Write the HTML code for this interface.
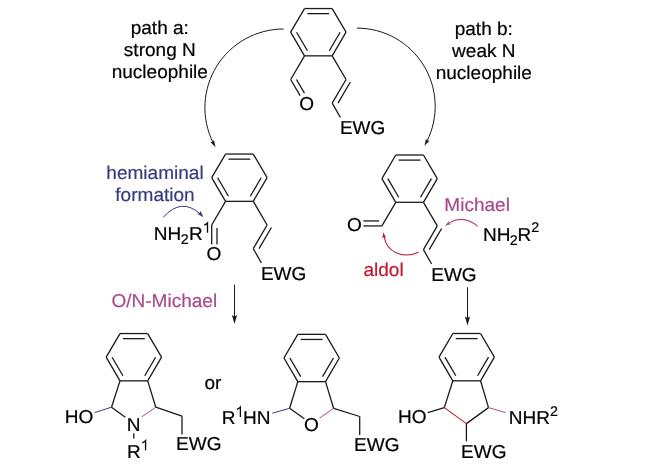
<!DOCTYPE html>
<html><head><meta charset="utf-8"><title>scheme</title>
<style>
html,body{margin:0;padding:0;background:#fff;}
body{width:650px;height:473px;overflow:hidden;}
svg{display:block;}
text{font-family:"Liberation Sans",sans-serif;text-rendering:geometricPrecision;}
svg{will-change:transform;opacity:0.999;}
</style></head><body>
<svg width="650" height="473" viewBox="0 0 650 473">
<rect width="650" height="473" fill="#fff"/>
<line x1="304.50" y1="8.55" x2="332.20" y2="8.55" stroke="#1a1a1a" stroke-width="1.3"/>
<line x1="332.20" y1="8.55" x2="346.05" y2="32.20" stroke="#1a1a1a" stroke-width="1.3"/>
<line x1="346.05" y1="32.20" x2="332.20" y2="55.85" stroke="#1a1a1a" stroke-width="1.3"/>
<line x1="332.20" y1="55.85" x2="304.50" y2="55.85" stroke="#1a1a1a" stroke-width="1.3"/>
<line x1="304.50" y1="55.85" x2="290.65" y2="32.20" stroke="#1a1a1a" stroke-width="1.3"/>
<line x1="290.65" y1="32.20" x2="304.50" y2="8.55" stroke="#1a1a1a" stroke-width="1.3"/>
<line x1="307.44" y1="13.65" x2="329.26" y2="13.65" stroke="#1a1a1a" stroke-width="1.3"/>
<line x1="340.13" y1="32.22" x2="329.26" y2="50.79" stroke="#1a1a1a" stroke-width="1.3"/>
<line x1="307.44" y1="50.79" x2="296.57" y2="32.22" stroke="#1a1a1a" stroke-width="1.3"/>
<line x1="304.50" y1="55.85" x2="290.65" y2="79.50" stroke="#1a1a1a" stroke-width="1.3"/>
<line x1="332.20" y1="55.85" x2="346.05" y2="79.50" stroke="#1a1a1a" stroke-width="1.3"/>
<line x1="346.05" y1="79.50" x2="332.20" y2="103.15" stroke="#1a1a1a" stroke-width="1.3"/>
<line x1="350.36" y1="82.03" x2="337.98" y2="103.17" stroke="#1a1a1a" stroke-width="1.3"/>
<line x1="332.20" y1="103.15" x2="340.40" y2="117.55" stroke="#1a1a1a" stroke-width="1.3"/>
<line x1="290.65" y1="79.50" x2="300.10" y2="95.64" stroke="#1a1a1a" stroke-width="1.3"/>
<line x1="296.43" y1="79.48" x2="304.47" y2="93.20" stroke="#1a1a1a" stroke-width="1.3"/>
<text transform="translate(306.60,110.10) scale(1.02,1)" fill="#000" stroke="#000" stroke-width="0.2" font-size="18.67" text-anchor="middle">O</text>
<text transform="translate(339.90,134.20) scale(1.02,1)" fill="#000" stroke="#000" stroke-width="0.2" font-size="18.67" text-anchor="start">EWG</text>
<path d="M283.60,29.00 A78.7,78.7 0 0 0 212.92,142.32" fill="none" stroke="#1a1a1a" stroke-width="1"/>
<path d="M215.51,147.17 L210.45,141.94 L212.78,142.05 L213.98,140.05 Z" fill="#1a1a1a"/>
<path d="M357.00,28.10 A78.2,78.2 0 0 1 427.06,141.03" fill="none" stroke="#1a1a1a" stroke-width="1"/>
<path d="M424.45,145.87 L426.02,138.76 L427.21,140.77 L429.54,140.66 Z" fill="#1a1a1a"/>
<text transform="translate(159.80,33.70) scale(1.02,1)" fill="#000" stroke="#000" stroke-width="0.2" font-size="18.67" text-anchor="middle">path a:</text>
<text transform="translate(159.80,55.70) scale(1.02,1)" fill="#000" stroke="#000" stroke-width="0.2" font-size="18.67" text-anchor="middle">strong N</text>
<text transform="translate(159.80,77.70) scale(1.02,1)" fill="#000" stroke="#000" stroke-width="0.2" font-size="18.67" text-anchor="middle">nucleophile</text>
<text transform="translate(483.80,34.70) scale(1.02,1)" fill="#000" stroke="#000" stroke-width="0.2" font-size="18.67" text-anchor="middle">path b:</text>
<text transform="translate(483.80,57.00) scale(1.02,1)" fill="#000" stroke="#000" stroke-width="0.2" font-size="18.67" text-anchor="middle">weak N</text>
<text transform="translate(483.80,78.70) scale(1.02,1)" fill="#000" stroke="#000" stroke-width="0.2" font-size="18.67" text-anchor="middle">nucleophile</text>
<line x1="225.55" y1="154.05" x2="253.25" y2="154.05" stroke="#1a1a1a" stroke-width="1.3"/>
<line x1="253.25" y1="154.05" x2="267.10" y2="177.70" stroke="#1a1a1a" stroke-width="1.3"/>
<line x1="267.10" y1="177.70" x2="253.25" y2="201.35" stroke="#1a1a1a" stroke-width="1.3"/>
<line x1="253.25" y1="201.35" x2="225.55" y2="201.35" stroke="#1a1a1a" stroke-width="1.3"/>
<line x1="225.55" y1="201.35" x2="211.70" y2="177.70" stroke="#1a1a1a" stroke-width="1.3"/>
<line x1="211.70" y1="177.70" x2="225.55" y2="154.05" stroke="#1a1a1a" stroke-width="1.3"/>
<line x1="228.49" y1="159.15" x2="250.31" y2="159.15" stroke="#1a1a1a" stroke-width="1.3"/>
<line x1="261.18" y1="177.72" x2="250.31" y2="196.29" stroke="#1a1a1a" stroke-width="1.3"/>
<line x1="228.49" y1="196.29" x2="217.62" y2="177.72" stroke="#1a1a1a" stroke-width="1.3"/>
<line x1="225.55" y1="201.35" x2="211.70" y2="225.00" stroke="#1a1a1a" stroke-width="1.3"/>
<line x1="253.25" y1="201.35" x2="267.10" y2="225.00" stroke="#1a1a1a" stroke-width="1.3"/>
<line x1="267.10" y1="225.00" x2="253.25" y2="248.65" stroke="#1a1a1a" stroke-width="1.3"/>
<line x1="271.41" y1="227.53" x2="259.03" y2="248.67" stroke="#1a1a1a" stroke-width="1.3"/>
<line x1="253.25" y1="248.65" x2="261.45" y2="263.05" stroke="#1a1a1a" stroke-width="1.3"/>
<line x1="211.70" y1="225.00" x2="211.70" y2="244.50" stroke="#1a1a1a" stroke-width="1.3"/>
<line x1="217.00" y1="227.90" x2="217.00" y2="244.50" stroke="#1a1a1a" stroke-width="1.3"/>
<text transform="translate(214.00,260.00) scale(1.02,1)" fill="#000" stroke="#000" stroke-width="0.2" font-size="18.67" text-anchor="middle">O</text>
<text transform="translate(260.90,280.20) scale(1.02,1)" fill="#000" stroke="#000" stroke-width="0.2" font-size="18.67" text-anchor="start">EWG</text>
<text transform="translate(153.70,240.00) scale(1.02,1)" fill="#000" stroke="#000" stroke-width="0.2" font-size="18.67" text-anchor="start">NH<tspan font-size="14" dx="-0.5" dy="4">2</tspan><tspan dx="0.4" dy="-4">R</tspan></text>
<path d="M204.23,225.21 Q206.44,224.30 207.51,222.98 L207.51,232.70" fill="none" stroke="#000" stroke-width="1.3" stroke-linejoin="miter"/>
<text transform="translate(155.00,178.50) scale(1.02,1)" fill="#353b82" stroke="#353b82" stroke-width="0.2" font-size="18.67" text-anchor="middle">hemiaminal</text>
<text transform="translate(155.00,200.50) scale(1.02,1)" fill="#353b82" stroke="#353b82" stroke-width="0.2" font-size="18.67" text-anchor="middle">formation</text>
<path d="M163.2,217.4 Q181,197 200.5,214" fill="none" stroke="#353b82" stroke-width="1"/>
<path d="M203.40,217.30 L197.14,213.79 L199.85,213.36 L200.56,210.71 Z" fill="#353b82"/>
<line x1="395.75" y1="155.00" x2="423.45" y2="155.00" stroke="#1a1a1a" stroke-width="1.3"/>
<line x1="423.45" y1="155.00" x2="437.30" y2="178.65" stroke="#1a1a1a" stroke-width="1.3"/>
<line x1="437.30" y1="178.65" x2="423.45" y2="202.30" stroke="#1a1a1a" stroke-width="1.3"/>
<line x1="423.45" y1="202.30" x2="395.75" y2="202.30" stroke="#1a1a1a" stroke-width="1.3"/>
<line x1="395.75" y1="202.30" x2="381.90" y2="178.65" stroke="#1a1a1a" stroke-width="1.3"/>
<line x1="381.90" y1="178.65" x2="395.75" y2="155.00" stroke="#1a1a1a" stroke-width="1.3"/>
<line x1="398.69" y1="160.10" x2="420.51" y2="160.10" stroke="#1a1a1a" stroke-width="1.3"/>
<line x1="431.38" y1="178.67" x2="420.51" y2="197.24" stroke="#1a1a1a" stroke-width="1.3"/>
<line x1="398.69" y1="197.24" x2="387.82" y2="178.67" stroke="#1a1a1a" stroke-width="1.3"/>
<line x1="395.75" y1="202.30" x2="381.90" y2="225.95" stroke="#1a1a1a" stroke-width="1.3"/>
<line x1="423.45" y1="202.30" x2="437.30" y2="225.95" stroke="#1a1a1a" stroke-width="1.3"/>
<line x1="437.30" y1="225.95" x2="423.45" y2="249.60" stroke="#1a1a1a" stroke-width="1.3"/>
<line x1="441.61" y1="228.48" x2="429.23" y2="249.62" stroke="#1a1a1a" stroke-width="1.3"/>
<line x1="423.45" y1="249.60" x2="431.65" y2="264.00" stroke="#1a1a1a" stroke-width="1.3"/>
<line x1="381.90" y1="225.95" x2="363.40" y2="225.95" stroke="#1a1a1a" stroke-width="1.3"/>
<line x1="379.00" y1="220.95" x2="363.40" y2="220.95" stroke="#1a1a1a" stroke-width="1.3"/>
<text transform="translate(354.50,231.40) scale(1.02,1)" fill="#000" stroke="#000" stroke-width="0.2" font-size="18.67" text-anchor="middle">O</text>
<text transform="translate(431.20,281.20) scale(1.02,1)" fill="#000" stroke="#000" stroke-width="0.2" font-size="18.67" text-anchor="start">EWG</text>
<text transform="translate(444.30,210.60) scale(1.02,1)" fill="#a84b8c" stroke="#a84b8c" stroke-width="0.2" font-size="18.67" text-anchor="start">Michael</text>
<text transform="translate(483.00,240.60) scale(1.02,1)" fill="#000" stroke="#000" stroke-width="0.2" font-size="18.67" text-anchor="start">NH<tspan font-size="14" dx="-0.8" dy="4">2</tspan><tspan dy="-4">R</tspan><tspan font-size="14" dy="-8.3">2</tspan></text>
<path d="M477.8,226.4 Q463,214 448.5,223.6" fill="none" stroke="#a84b8c" stroke-width="1.1"/>
<path d="M445.00,225.90 L448.91,220.97 L448.98,223.22 L451.04,224.12 Z" fill="#a84b8c"/>
<text transform="translate(363.40,276.40) scale(1.02,1)" fill="#c2182f" stroke="#c2182f" stroke-width="0.2" font-size="18.67" text-anchor="start">aldol</text>
<path d="M418.6,252.2 C402,259.3 386.5,251.6 384.1,236.5" fill="none" stroke="#c2182f" stroke-width="1.1"/>
<path d="M383.20,232.20 L386.11,237.78 L384.03,236.93 L382.37,238.44 Z" fill="#c2182f"/>
<line x1="234.50" y1="284.80" x2="234.50" y2="317.00" stroke="#1a1a1a" stroke-width="1"/>
<path d="M234.50,324.00 L231.90,315.00 L234.50,316.50 L237.10,315.00 Z" fill="#1a1a1a"/>
<line x1="467.50" y1="287.20" x2="467.50" y2="319.00" stroke="#1a1a1a" stroke-width="1"/>
<path d="M467.50,325.60 L464.90,316.60 L467.50,318.10 L470.10,316.60 Z" fill="#1a1a1a"/>
<text transform="translate(111.40,307.00) scale(1.02,1)" fill="#a84b8c" stroke="#a84b8c" stroke-width="0.2" font-size="18.67" text-anchor="start">O/N-Michael</text>
<line x1="120.00" y1="333.55" x2="147.70" y2="333.55" stroke="#1a1a1a" stroke-width="1.3"/>
<line x1="147.70" y1="333.55" x2="161.55" y2="357.20" stroke="#1a1a1a" stroke-width="1.3"/>
<line x1="161.55" y1="357.20" x2="147.70" y2="380.85" stroke="#1a1a1a" stroke-width="1.3"/>
<line x1="147.70" y1="380.85" x2="120.00" y2="380.85" stroke="#1a1a1a" stroke-width="1.3"/>
<line x1="120.00" y1="380.85" x2="106.15" y2="357.20" stroke="#1a1a1a" stroke-width="1.3"/>
<line x1="106.15" y1="357.20" x2="120.00" y2="333.55" stroke="#1a1a1a" stroke-width="1.3"/>
<line x1="122.94" y1="338.65" x2="144.76" y2="338.65" stroke="#1a1a1a" stroke-width="1.3"/>
<line x1="155.63" y1="357.22" x2="144.76" y2="375.79" stroke="#1a1a1a" stroke-width="1.3"/>
<line x1="122.94" y1="375.79" x2="112.07" y2="357.22" stroke="#1a1a1a" stroke-width="1.3"/>
<line x1="120.00" y1="380.85" x2="111.50" y2="407.20" stroke="#1a1a1a" stroke-width="1.3"/>
<line x1="147.70" y1="380.85" x2="155.80" y2="407.20" stroke="#1a1a1a" stroke-width="1.3"/>
<line x1="111.50" y1="407.20" x2="125.30" y2="417.20" stroke="#1a1a1a" stroke-width="1.3"/>
<line x1="141.80" y1="416.80" x2="155.80" y2="407.20" stroke="#a84b8c" stroke-width="1.0"/>
<line x1="111.50" y1="407.20" x2="94.60" y2="412.60" stroke="#353b82" stroke-width="1.0"/>
<text transform="translate(64.80,423.00) scale(1.02,1)" fill="#000" stroke="#000" stroke-width="0.2" font-size="18.67" text-anchor="start">HO</text>
<text transform="translate(133.60,431.20) scale(1.02,1)" fill="#000" stroke="#000" stroke-width="0.2" font-size="18.67" text-anchor="middle">N</text>
<line x1="133.80" y1="433.30" x2="133.80" y2="438.50" stroke="#1a1a1a" stroke-width="1.3"/>
<text transform="translate(126.90,457.50) scale(1.02,1)" fill="#000" stroke="#000" stroke-width="0.2" font-size="18.67" text-anchor="start">R</text>
<path d="M142.29,442.81 Q144.50,441.90 145.58,440.58 L145.58,450.30" fill="none" stroke="#000" stroke-width="1.3" stroke-linejoin="miter"/>
<line x1="155.80" y1="407.20" x2="182.00" y2="416.20" stroke="#1a1a1a" stroke-width="1.3"/>
<line x1="182.00" y1="416.20" x2="182.00" y2="434.50" stroke="#1a1a1a" stroke-width="1.3"/>
<text transform="translate(176.00,450.00) scale(1.02,1)" fill="#000" stroke="#000" stroke-width="0.2" font-size="18.67" text-anchor="start">EWG</text>
<text transform="translate(204.50,389.30) scale(1.02,1)" fill="#000" stroke="#000" stroke-width="0.2" font-size="18.67" text-anchor="start">or</text>
<line x1="297.80" y1="334.35" x2="325.50" y2="334.35" stroke="#1a1a1a" stroke-width="1.3"/>
<line x1="325.50" y1="334.35" x2="339.35" y2="358.00" stroke="#1a1a1a" stroke-width="1.3"/>
<line x1="339.35" y1="358.00" x2="325.50" y2="381.65" stroke="#1a1a1a" stroke-width="1.3"/>
<line x1="325.50" y1="381.65" x2="297.80" y2="381.65" stroke="#1a1a1a" stroke-width="1.3"/>
<line x1="297.80" y1="381.65" x2="283.95" y2="358.00" stroke="#1a1a1a" stroke-width="1.3"/>
<line x1="283.95" y1="358.00" x2="297.80" y2="334.35" stroke="#1a1a1a" stroke-width="1.3"/>
<line x1="300.74" y1="339.45" x2="322.56" y2="339.45" stroke="#1a1a1a" stroke-width="1.3"/>
<line x1="333.43" y1="358.02" x2="322.56" y2="376.59" stroke="#1a1a1a" stroke-width="1.3"/>
<line x1="300.74" y1="376.59" x2="289.87" y2="358.02" stroke="#1a1a1a" stroke-width="1.3"/>
<line x1="297.80" y1="381.65" x2="289.60" y2="408.30" stroke="#1a1a1a" stroke-width="1.3"/>
<line x1="325.50" y1="381.65" x2="333.60" y2="408.30" stroke="#1a1a1a" stroke-width="1.3"/>
<line x1="289.60" y1="408.30" x2="304.40" y2="418.80" stroke="#1a1a1a" stroke-width="1.3"/>
<line x1="319.50" y1="418.20" x2="333.60" y2="408.30" stroke="#a84b8c" stroke-width="1.0"/>
<line x1="289.60" y1="408.30" x2="272.30" y2="413.20" stroke="#353b82" stroke-width="1.0"/>
<text transform="translate(311.40,431.40) scale(1.02,1)" fill="#000" stroke="#000" stroke-width="0.2" font-size="18.67" text-anchor="middle">O</text>
<text transform="translate(221.70,424.20) scale(1.02,1)" fill="#000" stroke="#000" stroke-width="0.2" font-size="18.67" text-anchor="start">R</text>
<path d="M237.09,409.41 Q239.30,408.50 240.38,407.18 L240.38,416.90" fill="none" stroke="#000" stroke-width="1.3" stroke-linejoin="miter"/>
<text transform="translate(242.99,424.20) scale(1.02,1)" fill="#000" stroke="#000" stroke-width="0.2" font-size="18.67" text-anchor="start">HN</text>
<line x1="333.60" y1="408.30" x2="359.70" y2="416.50" stroke="#1a1a1a" stroke-width="1.3"/>
<line x1="359.70" y1="416.50" x2="359.70" y2="435.00" stroke="#1a1a1a" stroke-width="1.3"/>
<text transform="translate(354.00,451.40) scale(1.02,1)" fill="#000" stroke="#000" stroke-width="0.2" font-size="18.67" text-anchor="start">EWG</text>
<line x1="452.85" y1="333.50" x2="480.55" y2="333.50" stroke="#1a1a1a" stroke-width="1.3"/>
<line x1="480.55" y1="333.50" x2="494.40" y2="357.15" stroke="#1a1a1a" stroke-width="1.3"/>
<line x1="494.40" y1="357.15" x2="480.55" y2="380.80" stroke="#1a1a1a" stroke-width="1.3"/>
<line x1="480.55" y1="380.80" x2="452.85" y2="380.80" stroke="#1a1a1a" stroke-width="1.3"/>
<line x1="452.85" y1="380.80" x2="439.00" y2="357.15" stroke="#1a1a1a" stroke-width="1.3"/>
<line x1="439.00" y1="357.15" x2="452.85" y2="333.50" stroke="#1a1a1a" stroke-width="1.3"/>
<line x1="455.79" y1="338.60" x2="477.61" y2="338.60" stroke="#1a1a1a" stroke-width="1.3"/>
<line x1="488.48" y1="357.17" x2="477.61" y2="375.74" stroke="#1a1a1a" stroke-width="1.3"/>
<line x1="455.79" y1="375.74" x2="444.92" y2="357.17" stroke="#1a1a1a" stroke-width="1.3"/>
<line x1="452.85" y1="380.80" x2="444.30" y2="407.60" stroke="#1a1a1a" stroke-width="1.3"/>
<line x1="480.55" y1="380.80" x2="488.50" y2="407.60" stroke="#1a1a1a" stroke-width="1.3"/>
<line x1="444.30" y1="407.60" x2="466.40" y2="423.60" stroke="#c2182f" stroke-width="1.1"/>
<line x1="466.40" y1="423.60" x2="488.50" y2="407.60" stroke="#1a1a1a" stroke-width="1.3"/>
<line x1="444.30" y1="407.60" x2="427.80" y2="412.60" stroke="#1a1a1a" stroke-width="1.3"/>
<line x1="488.50" y1="407.60" x2="505.50" y2="412.60" stroke="#a84b8c" stroke-width="1.0"/>
<text transform="translate(398.10,423.40) scale(1.02,1)" fill="#000" stroke="#000" stroke-width="0.2" font-size="18.67" text-anchor="start">HO</text>
<text transform="translate(508.80,423.60) scale(1.02,1)" fill="#000" stroke="#000" stroke-width="0.2" font-size="18.67" text-anchor="start">NHR<tspan font-size="14" dy="-7.3">2</tspan></text>
<line x1="466.40" y1="423.60" x2="466.40" y2="441.30" stroke="#1a1a1a" stroke-width="1.3"/>
<text transform="translate(461.00,458.10) scale(1.02,1)" fill="#000" stroke="#000" stroke-width="0.2" font-size="18.67" text-anchor="start">EWG</text>
</svg>
</body></html>
